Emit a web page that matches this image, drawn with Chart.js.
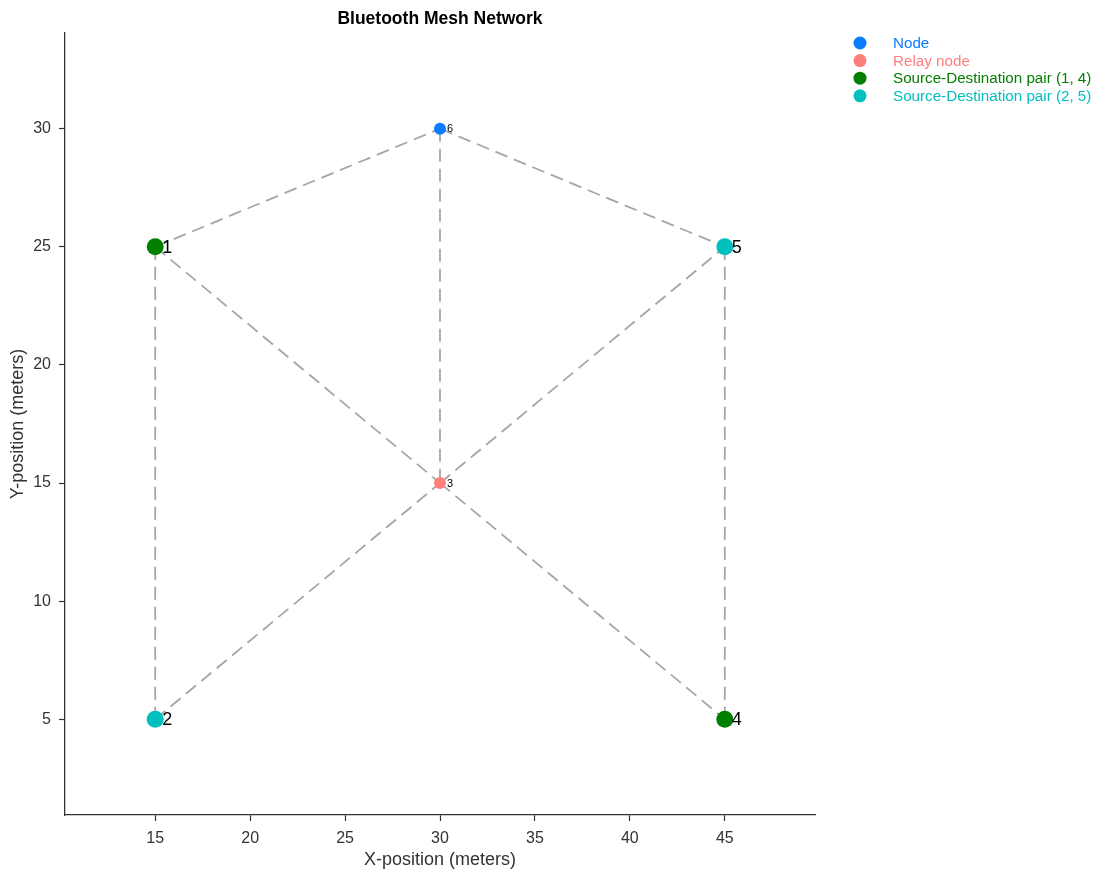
<!DOCTYPE html>
<html lang="en">
<head>
    <meta charset="UTF-8">
    <title>Bluetooth Mesh Network</title>
    <script src="https://cdn.jsdelivr.net/npm/chart.js"></script>
    <style>
        html, body { margin: 0; padding: 0; background: #fff; }
        #wrap { width: 1095px; height: 872px; }
    </style>
</head>
<body>
    <div id="wrap"><canvas id="meshChart" width="1095" height="872"></canvas></div>

    <script>
        // node positions (meters)
        const nodeIds = [1, 2, 3, 4, 5, 6];
        const nodeX = [15, 15, 30, 45, 45, 30];
        const nodeY = [25, 5, 15, 5, 25, 30];

        // links between nodes
        const edgeFrom = [1, 6, 6, 1, 3, 1, 2, 3, 5];
        const edgeTo   = [6, 5, 3, 3, 5, 2, 3, 4, 4];

        // legend groups
        const seriesNames = ['Node', 'Relay node', 'Source-Destination pair (1, 4)', 'Source-Destination pair (2, 5)'];
        const seriesNodes = [[6], [3], [1, 4], [2, 5]];

        const xTicks = [15, 20, 25, 30, 35, 40, 45];
        const yTicks = [5, 10, 15, 20, 25, 30];

        const seriesColors = ['#0a7bff', '#ff7f7f', '#007f00', '#00bfbf'];
        const seriesRadius = [6, 6, 8.5, 8.5];
        const FONT = "'Liberation Sans', Arial, sans-serif";

        function pos(id) {
            const i = nodeIds.indexOf(id);
            return { x: nodeX[i], y: nodeY[i], id: id };
        }

        const datasets = [];
        seriesNames.forEach((name, i) => {
            datasets.push({
                label: name,
                data: seriesNodes[i].map(pos),
                backgroundColor: seriesColors[i],
                borderColor: seriesColors[i],
                borderWidth: 0,
                pointRadius: seriesRadius[i],
                pointHoverRadius: seriesRadius[i],
                showLine: false,
                order: 0,
                isNode: true
            });
        });
        edgeFrom.forEach((a, i) => {
            datasets.push({
                label: 'edge',
                data: [pos(a), pos(edgeTo[i])],
                showLine: true,
                borderColor: 'rgba(128,128,128,0.7)',
                borderWidth: 1.8,
                borderDash: [13, 7],
                pointRadius: 0,
                fill: false,
                order: 1
            });
        });

        const extras = {
            id: 'extras',
            afterDatasetsDraw(chart) {
                const ctx = chart.ctx;
                ctx.save();
                // node labels
                chart.data.datasets.forEach((ds, di) => {
                    if (!ds.isNode) return;
                    const meta = chart.getDatasetMeta(di);
                    const big = ds.pointRadius > 7;
                    ctx.font = (big ? 18 : 11) + 'px ' + FONT;
                    ctx.fillStyle = '#000';
                    ctx.textAlign = 'left';
                    ctx.textBaseline = 'middle';
                    meta.data.forEach((pt, k) => {
                        ctx.fillText(String(ds.data[k].id), pt.x + 7, pt.y + (big ? 1 : 0.5));
                    });
                });
                ctx.restore();
            },
            afterDraw(chart) {
                const ctx = chart.ctx;
                const area = chart.chartArea;
                ctx.save();
                // title
                ctx.font = 'bold 17.5px ' + FONT;
                ctx.fillStyle = '#000';
                ctx.textAlign = 'center';
                ctx.textBaseline = 'middle';
                ctx.fillText('Bluetooth Mesh Network', (area.left + area.right) / 2, 19);
                // legend
                ctx.font = '15.2px ' + FONT;
                ctx.textAlign = 'left';
                seriesNames.forEach((name, i) => {
                    const y = 43 + i * 17.6;
                    ctx.fillStyle = seriesColors[i];
                    ctx.beginPath();
                    ctx.arc(860, y, 6.5, 0, Math.PI * 2);
                    ctx.fill();
                    ctx.fillText(name, 893, y + 1);
                });
                ctx.restore();
            }
        };

        new Chart(document.getElementById('meshChart'), {
            type: 'scatter',
            data: { datasets: datasets },
            options: {
                responsive: false,
                animation: false,
                events: [],
                layout: { padding: { top: 33, right: 280, bottom: 0, left: 0 } },
                plugins: {
                    legend: { display: false },
                    tooltip: { enabled: false },
                    title: { display: false }
                },
                scales: {
                    x: {
                        type: 'linear',
                        min: 10.25,
                        max: 49.75,
                        afterBuildTicks: s => { s.ticks = xTicks.map(v => ({ value: v })); },
                        afterFit: s => { s.height = 57; },
                        grid: { drawOnChartArea: false, drawTicks: true, tickLength: 6, color: '#333', tickWidth: 1.2 },
                        border: { color: '#333', width: 1.3 },
                        ticks: { color: '#333', padding: 8, font: { family: FONT, size: 16 } },
                        title: { display: true, text: 'X-position (meters)', color: '#333',
                                 font: { family: FONT, size: 18 }, padding: { top: 0, bottom: 1 } }
                    },
                    y: {
                        type: 'linear',
                        min: 0.95,
                        max: 34.05,
                        afterBuildTicks: s => { s.ticks = yTicks.map(v => ({ value: v })); },
                        afterFit: s => { s.width = 65; },
                        grid: { drawOnChartArea: false, drawTicks: true, tickLength: 6, color: '#333', tickWidth: 1.2 },
                        border: { color: '#333', width: 1.3 },
                        ticks: { color: '#333', padding: 8, font: { family: FONT, size: 16 } },
                        title: { display: true, text: 'Y-position (meters)', color: '#333',
                                 font: { family: FONT, size: 18 }, padding: { top: 7, bottom: 0 } }
                    }
                }
            },
            plugins: [extras]
        });
    </script>
</body>
</html>
